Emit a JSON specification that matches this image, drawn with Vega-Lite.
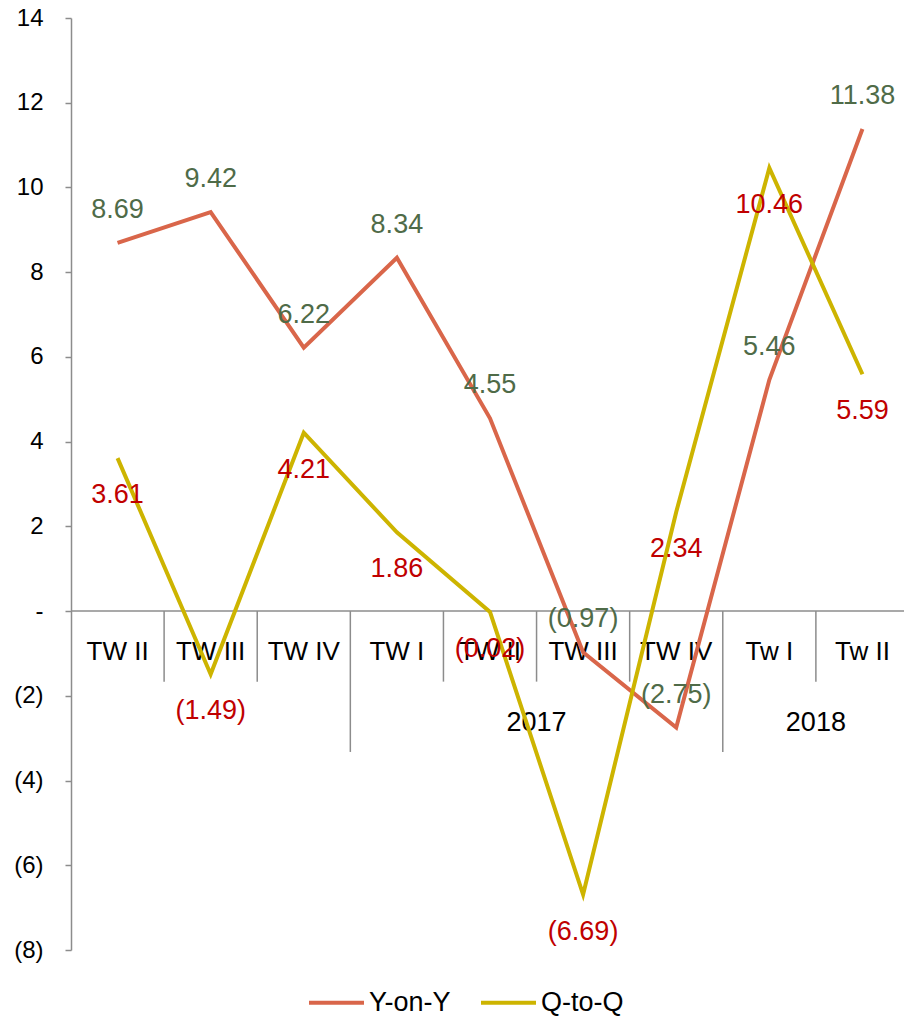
{
  "$schema": "https://vega.github.io/schema/vega-lite/v6.json",
  "width": 838,
  "height": 932,
  "autosize": "none",
  "padding": {"left": 71, "top": 18, "right": 0, "bottom": 66},
  "config": {
    "view": {"stroke": null},
    "font": "Liberation Sans",
    "axisY": {
      "labelExpr": "datum.value == 0 ? '-' : (datum.value < 0 ? '(' + abs(datum.value) + ')' : datum.value)",
      "labelFontSize": 24,
      "labelColor": "#000000",
      "labelPadding": 22,
      "tickSize": 6,
      "tickColor": "#8c8c8c",
      "tickWidth": 1.5,
      "domainColor": "#8c8c8c",
      "domainWidth": 1.5,
      "grid": false,
      "title": null
    }
  },
  "datasets": {
    "series": [
      {"i": 1, "series": "Y-on-Y", "v": 8.69},
      {"i": 2, "series": "Y-on-Y", "v": 9.42},
      {"i": 3, "series": "Y-on-Y", "v": 6.22},
      {"i": 4, "series": "Y-on-Y", "v": 8.34},
      {"i": 5, "series": "Y-on-Y", "v": 4.55},
      {"i": 6, "series": "Y-on-Y", "v": -0.97},
      {"i": 7, "series": "Y-on-Y", "v": -2.75},
      {"i": 8, "series": "Y-on-Y", "v": 5.46},
      {"i": 9, "series": "Y-on-Y", "v": 11.38},
      {"i": 1, "series": "Q-to-Q", "v": 3.61},
      {"i": 2, "series": "Q-to-Q", "v": -1.49},
      {"i": 3, "series": "Q-to-Q", "v": 4.21},
      {"i": 4, "series": "Q-to-Q", "v": 1.86},
      {"i": 5, "series": "Q-to-Q", "v": -0.02},
      {"i": 6, "series": "Q-to-Q", "v": -6.69},
      {"i": 7, "series": "Q-to-Q", "v": 2.34},
      {"i": 8, "series": "Q-to-Q", "v": 10.46},
      {"i": 9, "series": "Q-to-Q", "v": 5.59}
    ],
    "cats": [
      {"i": 1, "label": "TW II"},
      {"i": 2, "label": "TW III"},
      {"i": 3, "label": "TW IV"},
      {"i": 4, "label": "TW I"},
      {"i": 5, "label": "TW II"},
      {"i": 6, "label": "TW III"},
      {"i": 7, "label": "TW IV"},
      {"i": 8, "label": "Tw I"},
      {"i": 9, "label": "Tw II"}
    ],
    "years": [
      {"i": 5.5, "label": "2017"},
      {"i": 8.5, "label": "2018"}
    ],
    "seps": [
      {"i": 1.5, "kind": "short"},
      {"i": 2.5, "kind": "short"},
      {"i": 3.5, "kind": "long"},
      {"i": 4.5, "kind": "short"},
      {"i": 5.5, "kind": "short"},
      {"i": 6.5, "kind": "short"},
      {"i": 7.5, "kind": "long"},
      {"i": 8.5, "kind": "short"}
    ]
  },
  "layer": [
    {
      "data": {"name": "series"},
      "mark": {"type": "line", "strokeWidth": 3.5, "opacity": 0},
      "encoding": {
        "x": {"field": "i", "type": "quantitative", "scale": {"domain": [0.5, 9.5], "nice": false, "zero": false}, "axis": null},
        "y": {
          "field": "v",
          "type": "quantitative",
          "scale": {"domain": [-8, 14], "nice": false},
          "axis": {"values": [-8, -6, -4, -2, 0, 2, 4, 6, 8, 10, 12, 14]}
        }
      }
    },
    {
      "data": {"name": "seps"},
      "transform": [{"filter": "datum.kind == 'short'"}],
      "mark": {"type": "rule", "color": "#8c8c8c", "strokeWidth": 1.5},
      "encoding": {
        "x": {"field": "i", "type": "quantitative", "axis": null},
        "y": {"datum": 0, "type": "quantitative", "axis": {"values": [-8, -6, -4, -2, 0, 2, 4, 6, 8, 10, 12, 14]}},
        "y2": {"datum": -1.665}
      }
    },
    {
      "data": {"name": "seps"},
      "transform": [{"filter": "datum.kind == 'long'"}],
      "mark": {"type": "rule", "color": "#8c8c8c", "strokeWidth": 1.5},
      "encoding": {
        "x": {"field": "i", "type": "quantitative", "axis": null},
        "y": {"datum": 0, "type": "quantitative", "axis": {"values": [-8, -6, -4, -2, 0, 2, 4, 6, 8, 10, 12, 14]}},
        "y2": {"datum": -3.325}
      }
    },
    {
      "data": {"values": [{}]},
      "mark": {"type": "rule", "color": "#8c8c8c", "strokeWidth": 1.5},
      "encoding": {
        "y": {"datum": 0, "type": "quantitative", "axis": {"values": [-8, -6, -4, -2, 0, 2, 4, 6, 8, 10, 12, 14]}}
      }
    },
    {
      "data": {"name": "cats"},
      "mark": {"type": "text", "fontSize": 26, "color": "#000000", "align": "center", "baseline": "middle"},
      "encoding": {
        "x": {"field": "i", "type": "quantitative", "axis": null},
        "y": {"datum": -0.96, "type": "quantitative", "axis": {"values": [-8, -6, -4, -2, 0, 2, 4, 6, 8, 10, 12, 14]}},
        "text": {"field": "label"}
      }
    },
    {
      "data": {"name": "years"},
      "mark": {"type": "text", "fontSize": 27, "color": "#000000", "align": "center", "baseline": "middle"},
      "encoding": {
        "x": {"field": "i", "type": "quantitative", "axis": null},
        "y": {"datum": -2.64, "type": "quantitative", "axis": {"values": [-8, -6, -4, -2, 0, 2, 4, 6, 8, 10, 12, 14]}},
        "text": {"field": "label"}
      }
    },
    {
      "data": {"name": "series"},
      "mark": {"type": "line", "strokeWidth": 4},
      "encoding": {
        "x": {"field": "i", "type": "quantitative", "axis": null},
        "y": {"field": "v", "type": "quantitative", "axis": {"values": [-8, -6, -4, -2, 0, 2, 4, 6, 8, 10, 12, 14]}},
        "color": {
          "field": "series",
          "type": "nominal",
          "scale": {"domain": ["Y-on-Y", "Q-to-Q"], "range": ["#d9664a", "#cdb400"]},
          "legend": {
            "title": null,
            "orient": "none",
            "direction": "horizontal",
            "legendX": 236,
            "legendY": 955,
            "symbolType": "stroke",
            "symbolSize": 3025,
            "symbolStrokeWidth": 4,
            "labelFontSize": 27,
            "labelColor": "#000000",
            "labelOffset": 3,
            "columnPadding": 22
          }
        }
      }
    },
    {
      "data": {"name": "series"},
      "transform": [
        {"filter": "datum.series == 'Y-on-Y'"},
        {"calculate": "datum.v < 0 ? '(' + format(-datum.v, '.2f') + ')' : format(datum.v, '.2f')", "as": "lbl"}
      ],
      "mark": {"type": "text", "fontSize": 27, "color": "#4f6b48", "align": "center", "baseline": "middle", "dy": -33},
      "encoding": {
        "x": {"field": "i", "type": "quantitative", "axis": null},
        "y": {"field": "v", "type": "quantitative", "axis": {"values": [-8, -6, -4, -2, 0, 2, 4, 6, 8, 10, 12, 14]}},
        "text": {"field": "lbl"}
      }
    },
    {
      "data": {"name": "series"},
      "transform": [
        {"filter": "datum.series == 'Q-to-Q'"},
        {"calculate": "datum.v < 0 ? '(' + format(-datum.v, '.2f') + ')' : format(datum.v, '.2f')", "as": "lbl"}
      ],
      "mark": {"type": "text", "fontSize": 27, "color": "#c00000", "align": "center", "baseline": "middle", "dy": 37},
      "encoding": {
        "x": {"field": "i", "type": "quantitative", "axis": null},
        "y": {"field": "v", "type": "quantitative", "axis": {"values": [-8, -6, -4, -2, 0, 2, 4, 6, 8, 10, 12, 14]}},
        "text": {"field": "lbl"}
      }
    }
  ]
}
